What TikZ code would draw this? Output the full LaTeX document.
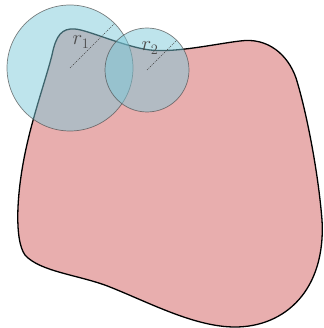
\documentclass[tikz,border=0pt]{standalone}
\begin{document}
\begin{tikzpicture}[x=1pt,y=-1pt]
\definecolor{blobfill}{RGB}{232,174,174}
\definecolor{circfill}{RGB}{125,201,217}
\tikzset{
  blob/.style={draw=black, line width=1.3pt, fill=blobfill},
  circ/.style={circle, draw=black!70, line width=0.7pt, draw opacity=0.7, fill=circfill, fill opacity=0.5, inner sep=0pt, outer sep=0pt},
  radius line/.style={dash pattern=on 1pt off 1.2pt, line width=0.6pt, black!75},
  rlabel/.style={text=black!70, font=\fontsize{20}{24}\selectfont, inner sep=0pt}
}
\useasboundingbox (0,0) rectangle (323,328);
\begin{scope}
\clip (0,0) rectangle (323,328);
\draw[blob] (52,55) .. controls (56,35) and (62,28) .. (75,29)
  .. controls (88,30) and (125,47) .. (150,50)
  .. controls (175,53) and (215,44) .. (240,41)
  .. controls (268,37) and (288,55) .. (296,78)
  .. controls (306,110) and (318,170) .. (322,220)
  .. controls (326,290) and (285,327) .. (235,327)
  .. controls (195,327) and (150,303) .. (110,287)
  .. controls (80,275) and (40,272) .. (25,255)
  .. controls (14,240) and (16,190) .. (28,140)
  .. controls (35,110) and (47,75) .. (52,55) -- cycle;
\end{scope}
\node[circ, minimum size=126pt] (c1) at (70,68) {};
\node[circ, minimum size=84pt] (c2) at (147,70) {};
\draw[radius line] (c1.center) -- (c1.45);
\draw[radius line] (c2.center) -- (c2.45);
\node[rlabel] (l1) at (81,42) {$r_1$};
\node[rlabel] (l2) at (150,48) {$r_2$};
\end{tikzpicture}
\end{document}
